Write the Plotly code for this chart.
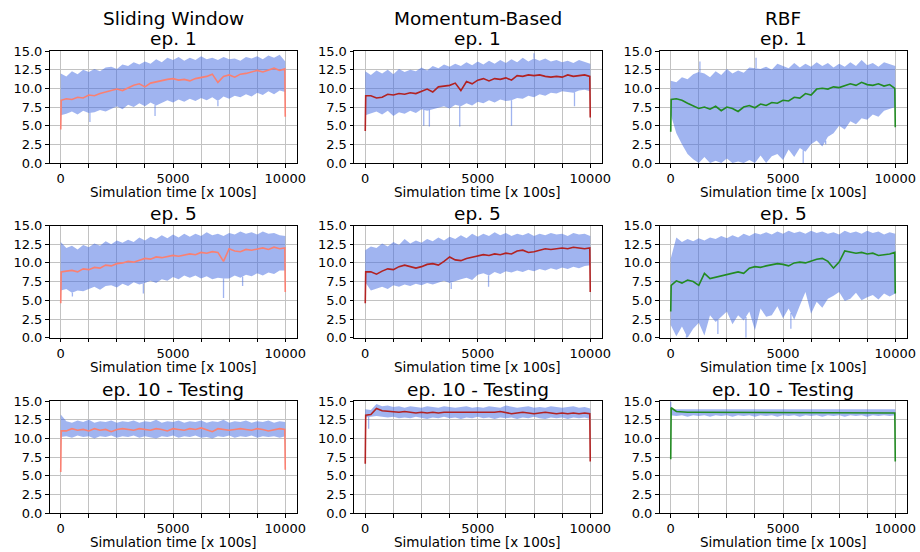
import numpy as np
import plotly.graph_objects as go

# ---------------- data ----------------
COL_TITLES = ["Sliding Window", "Momentum-Based", "RBF"]
ROW_TITLES = ["ep. 1", "ep. 5", "ep. 10 - Testing"]
X_LABEL = "Simulation time [x 100s]"
MEAN_COLORS = ["#fa8072", "#b22222", "#228b22"]
BAND_COLOR = "rgba(65,105,225,0.5)"

# time stamps of the sampled envelope / mean values
T_ENV = list(range(0, 10001, 250))                                   # 41 samples
T_MEAN = [0, 20] + list(range(250, 9751, 250)) + [9980, 10000]       # 43 samples

X_TICKS = [0, 1250, 2500, 3750, 5000, 6250, 7500, 8750, 10000]
X_TICK_TEXT = ["0", "", "", "", "5000", "", "", "", "10000"]
Y_TICKS = [0, 2.5, 5, 7.5, 10, 12.5, 15]

# ---- Sliding Window ----
sw_ep1_mean = [4.5, 8.4,
               8.6, 8.5, 8.8, 8.7, 9.1, 9.0, 9.3, 9.5, 9.8, 9.9,
               9.7, 10.1, 10.4, 10.6, 10.2, 10.7, 10.9, 11.1, 11.2, 11.3,
               11.1, 11.2, 11.0, 11.3, 11.4, 11.6, 11.9, 10.8, 11.6, 11.8,
               11.5, 11.9, 12.0, 12.2, 12.4, 12.2, 12.5, 12.7, 12.4,
               12.6, 6.2]
sw_ep1_upper = [12.0, 11.6, 12.3, 11.9, 12.5, 12.2, 12.6, 12.3, 12.8, 12.9,
                12.6, 13.2, 13.0, 13.5, 13.2, 13.6, 13.3, 13.9, 13.5, 14.1,
                13.8, 14.2, 13.7, 14.1, 13.8, 14.3, 13.9, 14.1, 13.8, 14.2,
                13.9, 14.0, 13.7, 14.2, 14.0, 14.3, 13.9, 14.4, 14.1, 14.5, 13.6]
sw_ep1_lower = [6.4, 6.6, 6.9, 6.5, 7.0, 6.7, 6.8, 7.1, 6.9, 7.3,
                7.6, 7.2, 7.8, 7.5, 8.0, 7.6, 8.1, 7.7, 8.0, 8.4,
                8.1, 8.5, 8.2, 8.6, 8.3, 8.7, 8.4, 8.8, 8.3, 8.9,
                8.6, 9.0, 8.8, 9.2, 8.9, 9.4, 9.1, 9.6, 9.2, 9.7, 9.5]
sw_ep1_spike_t = [1300, 4200, 7000]
sw_ep1_spike_v = [5.5, 6.3, 7.6]

sw_ep5_mean = [4.6, 8.8,
               8.9, 9.0, 8.8, 9.2, 9.1, 9.4, 9.3, 9.7, 9.6, 9.9,
               10.0, 10.2, 10.1, 10.3, 10.6, 10.5, 10.8, 10.7, 10.9, 11.0,
               10.9, 11.1, 11.2, 11.1, 11.4, 11.3, 11.5, 11.4, 10.2, 11.9,
               11.6, 11.5, 11.8, 11.7, 11.9, 12.0, 11.8, 12.1, 11.9,
               12.0, 6.1]
sw_ep5_upper = [12.8, 12.0, 12.3, 11.8, 12.4, 12.1, 12.6, 12.3, 12.9, 12.5,
                13.0, 12.7, 13.1, 12.8, 13.4, 13.0, 13.5, 13.2, 13.7, 13.3,
                13.8, 13.4, 13.9, 13.5, 13.9, 13.6, 14.1, 13.7, 13.9, 13.6,
                14.0, 13.8, 14.2, 13.9, 14.1, 13.8, 14.2, 13.9, 14.0, 13.7, 13.6]
sw_ep5_lower = [6.3, 6.5, 6.0, 6.3, 6.2, 6.5, 6.8, 6.4, 6.9, 7.0,
                6.7, 7.2, 6.9, 7.4, 7.1, 7.3, 7.6, 7.3, 7.8, 7.6,
                8.1, 7.8, 8.3, 8.0, 8.3, 7.9, 8.2, 7.8, 8.0, 7.9,
                7.9, 8.3, 8.0, 8.4, 8.2, 8.6, 8.3, 8.7, 8.5, 9.0, 9.0]
sw_ep5_spike_t = [520, 3680, 7250, 8100]
sw_ep5_spike_v = [5.5, 5.9, 5.3, 6.9]

sw_ep10_mean = [5.5, 11.0,
                11.0, 11.3, 11.1, 11.2, 11.0, 11.3, 11.1, 11.2, 10.9, 11.2,
                11.3, 11.2, 11.1, 11.3, 11.2, 11.1, 11.3, 11.2, 11.0, 11.3,
                11.2, 11.1, 11.3, 11.2, 11.4, 11.1, 10.9, 11.3, 11.2, 11.1,
                11.2, 11.3, 11.2, 11.1, 11.3, 11.2, 11.0, 11.2, 11.3,
                11.2, 5.8]
sw_ep10_upper = [13.2, 12.3, 12.1, 12.4, 12.2, 12.5, 12.1, 12.3, 12.2, 12.4,
                 12.1, 12.3, 12.2, 12.4, 12.1, 12.3, 12.2, 12.5, 12.1, 12.3,
                 12.2, 12.4, 12.1, 12.3, 12.2, 12.4, 12.1, 12.3, 12.2, 12.5,
                 12.1, 12.3, 12.2, 12.4, 12.1, 12.3, 12.2, 12.4, 12.1, 12.3, 12.2]
sw_ep10_lower = [10.2, 10.3, 10.1, 10.4, 10.2, 10.3, 10.0, 10.3, 10.2, 10.4,
                 10.1, 10.3, 10.2, 10.4, 10.1, 10.3, 10.2, 10.0, 10.3, 10.2,
                 10.4, 10.1, 10.3, 10.2, 10.4, 10.1, 10.2, 10.0, 10.3, 10.2,
                 10.4, 10.1, 10.3, 10.2, 10.4, 10.1, 10.3, 10.2, 10.3, 10.1, 10.3]
sw_ep10_spike_t = []
sw_ep10_spike_v = []

# ---- Momentum-Based ----
mb_ep1_mean = [4.3, 9.0,
               9.0, 8.7, 8.8, 9.2, 9.1, 9.3, 9.2, 9.4, 9.3, 9.6,
               9.9, 9.5, 10.2, 10.3, 10.4, 10.7, 9.7, 10.9, 10.6, 11.1,
               11.3, 11.0, 11.3, 11.2, 11.4, 11.1, 11.7, 11.6, 11.8, 11.7,
               11.8, 11.6, 11.5, 11.6, 11.5, 11.8, 11.6, 11.7, 11.8,
               11.6, 6.1]
mb_ep1_upper = [12.3, 11.8, 12.4, 12.0, 12.5, 11.9, 12.6, 12.2, 12.5, 12.3,
                12.8, 12.4, 13.0, 12.7, 13.2, 12.9, 13.3, 13.0, 13.5, 13.1,
                13.6, 13.2, 13.7, 13.3, 13.8, 13.4, 13.9, 13.5, 14.1, 13.6,
                14.0, 13.7, 14.0, 13.6, 13.8, 13.5, 13.7, 13.4, 13.8, 13.6, 13.3]
mb_ep1_lower = [6.4, 6.6, 6.9, 6.5, 7.0, 6.3, 6.8, 6.6, 7.0, 6.7,
                7.2, 7.0, 7.3, 7.4, 7.6, 7.3, 7.8, 7.6, 8.0, 7.7,
                8.2, 8.0, 8.4, 8.1, 8.5, 8.3, 8.4, 8.7, 8.6, 9.0,
                8.8, 9.2, 9.0, 9.4, 9.3, 9.6, 9.5, 9.4, 9.7, 9.8, 9.6]
mb_ep1_spike_t = [2600, 2850, 4200, 6500, 7500, 9300]
mb_ep1_spike_v = [5.0, 4.9, 4.9, 5.0, 14.7, 7.6]

mb_ep5_mean = [4.6, 8.8,
               8.8, 8.5, 8.9, 9.2, 9.1, 9.5, 9.7, 9.5, 9.3, 9.5,
               9.8, 9.9, 9.7, 10.2, 10.8, 10.4, 10.3, 10.6, 10.8, 11.0,
               11.1, 11.0, 11.2, 11.1, 11.3, 11.2, 11.6, 11.7, 11.4, 11.5,
               11.7, 11.9, 11.8, 11.9, 12.0, 11.9, 12.1, 12.0, 11.9,
               12.0, 6.1]
mb_ep5_upper = [11.7, 12.2, 12.0, 12.6, 12.2, 12.8, 12.4, 13.2, 12.6, 13.0,
                12.7, 13.2, 12.9, 13.4, 13.0, 13.5, 13.2, 13.7, 13.3, 13.9,
                13.5, 13.9, 13.6, 14.1, 13.7, 14.0, 13.6, 13.9, 13.7, 14.0,
                13.6, 13.9, 13.7, 14.0, 13.8, 13.9, 13.6, 14.0, 13.8, 13.9, 13.6]
mb_ep5_lower = [7.4, 6.3, 6.6, 6.8, 6.5, 7.0, 6.8, 7.1, 6.9, 7.2,
                7.0, 7.3, 7.1, 7.4, 7.6, 7.3, 7.5, 7.8, 8.0, 7.7,
                8.4, 8.6, 8.3, 8.8, 8.5, 8.9, 8.7, 9.0, 8.8, 9.1,
                8.9, 9.2, 9.0, 9.3, 9.1, 9.4, 9.2, 9.5, 9.3, 9.6, 9.7]
mb_ep5_spike_t = [3820, 5480]
mb_ep5_spike_v = [6.5, 6.8]

mb_ep10_mean = [6.6, 13.1,
                13.2, 14.0, 13.7, 13.6, 13.6, 13.5, 13.6, 13.5, 13.4, 13.5,
                13.4, 13.5, 13.4, 13.5, 13.5, 13.4, 13.5, 13.4, 13.5, 13.4,
                13.5, 13.4, 13.5, 13.6, 13.4, 13.3, 13.4, 13.5, 13.4, 13.3,
                13.4, 13.5, 13.4, 13.3, 13.4, 13.3, 13.4, 13.3, 13.4,
                13.3, 6.9]
mb_ep10_upper = [13.9, 13.8, 14.6, 14.3, 14.4, 14.2, 14.3, 14.1, 14.3, 14.2,
                 14.1, 14.3, 14.2, 14.1, 14.3, 14.2, 14.1, 14.2, 14.3, 14.1,
                 14.2, 14.1, 14.3, 14.2, 14.1, 14.4, 14.2, 14.1, 14.2, 14.3,
                 14.1, 14.2, 14.1, 14.3, 14.2, 14.1, 14.2, 14.3, 14.1, 14.2, 14.0]
mb_ep10_lower = [12.8, 12.9, 13.0, 12.9, 12.8, 12.9, 12.7, 12.8, 12.7, 12.9,
                 12.8, 12.6, 12.8, 12.7, 12.9, 12.7, 12.8, 12.6, 12.8, 12.7,
                 12.9, 12.7, 12.8, 12.6, 12.8, 12.7, 12.8, 12.6, 12.8, 12.7,
                 12.9, 12.7, 12.6, 12.8, 12.7, 12.8, 12.6, 12.8, 12.7, 12.8, 12.6]
mb_ep10_spike_t = [150]
mb_ep10_spike_v = [11.3]

# ---- RBF ----
rbf_ep1_mean = [4.2, 8.5,
                8.6, 8.4, 8.0, 7.6, 7.3, 7.5, 7.2, 7.6, 7.0, 7.5,
                7.3, 6.9, 7.5, 7.7, 7.4, 7.9, 7.7, 8.1, 8.0, 8.4,
                8.3, 8.8, 8.7, 9.3, 9.1, 9.9, 10.0, 9.9, 10.2, 10.1,
                10.4, 10.6, 10.4, 10.8, 10.5, 10.4, 10.6, 10.3, 10.5,
                10.0, 4.8]
rbf_ep1_upper = [11.0, 10.8, 11.5, 11.2, 11.9, 12.2, 12.0, 11.5, 12.3, 11.8,
                 12.6, 12.0, 12.4, 12.1, 12.8, 12.7, 12.6, 12.9, 12.5, 13.3,
                 13.0, 12.7, 13.4, 12.8, 13.3, 12.9, 13.5, 13.0, 13.4, 12.8,
                 13.3, 12.9, 13.5, 13.0, 13.8, 13.1, 13.4, 12.9, 13.5, 13.2, 13.0]
rbf_ep1_lower = [6.5, 4.0, 2.5, 1.2, 0.5, 0.0, 0.8, 0.0, 0.3, 0.0,
                 0.6, 0.0, 0.2, 0.0, 0.4, 0.0, 1.0, 0.0, 0.9, 1.2,
                 0.4, 1.8, 0.8, 2.0, 1.5, 2.5, 3.0, 2.2, 3.5, 4.0,
                 5.0, 4.5, 5.6, 5.2, 6.0, 5.8, 6.5, 6.2, 7.0, 7.3, 7.5]
rbf_ep1_spike_t = [1300, 3800, 5900, 6900]
rbf_ep1_spike_v = [13.6, 14.1, 0.0, 2.5]

rbf_ep5_mean = [3.5, 7.0,
                7.6, 7.3, 7.7, 7.5, 7.0, 8.6, 7.9, 8.1, 8.3, 8.4,
                8.7, 8.8, 8.6, 9.3, 9.5, 9.4, 9.6, 9.7, 9.9, 9.8,
                9.6, 10.0, 10.1, 10.0, 10.3, 10.5, 10.6, 10.2, 9.3, 10.1,
                11.6, 11.5, 11.3, 11.4, 11.2, 11.3, 11.0, 11.1, 11.2,
                11.4, 5.9]
rbf_ep5_upper = [10.6, 13.4, 12.8, 13.2, 12.9, 13.3, 13.0, 13.4, 13.2, 13.6,
                 13.3, 13.7, 13.4, 13.9, 13.6, 14.0, 13.8, 14.1, 13.8, 14.2,
                 13.9, 14.3, 14.0, 14.2, 13.9, 14.3, 14.0, 14.2, 13.9, 14.1,
                 13.8, 14.3, 14.0, 14.2, 13.9, 14.3, 14.0, 14.2, 13.8, 14.1, 13.9]
rbf_ep5_lower = [1.7, 0.2, 1.5, 0.0, 1.2, 2.0, 0.3, 3.0, 2.1, 2.8,
                 3.5, 1.8, 3.0, 2.3, 3.5, 1.0, 3.9, 2.8, 3.0, 4.2,
                 2.6, 3.9, 2.4, 4.3, 6.1, 3.2, 4.8, 4.0, 5.2, 5.6,
                 6.1, 4.9, 5.2, 6.0, 5.0, 5.4, 5.7, 5.1, 5.9, 5.5, 5.9]
rbf_ep5_spike_t = [700, 2100, 3350, 5350]
rbf_ep5_spike_v = [0.0, 0.5, 0.0, 1.2]

rbf_ep10_mean = [7.2, 14.1,
                 13.6, 13.5, 13.5, 13.5, 13.5, 13.5, 13.5, 13.5, 13.5, 13.5,
                 13.5, 13.5, 13.5, 13.5, 13.5, 13.5, 13.5, 13.5, 13.5, 13.5,
                 13.5, 13.5, 13.5, 13.5, 13.5, 13.5, 13.5, 13.5, 13.5, 13.5,
                 13.5, 13.5, 13.5, 13.5, 13.5, 13.5, 13.5, 13.4, 13.4,
                 13.4, 6.9]
rbf_ep10_upper = [13.9, 13.9, 13.9, 14.0, 13.9, 13.9, 14.0, 13.9, 13.9, 14.0,
                  13.9, 13.9, 14.0, 13.9, 13.9, 14.0, 13.9, 13.9, 14.0, 13.9,
                  13.9, 14.0, 13.9, 13.9, 14.0, 13.9, 13.9, 14.0, 13.9, 13.9,
                  14.0, 13.9, 13.9, 14.0, 13.9, 13.9, 14.0, 13.9, 13.9, 14.0, 13.9]
rbf_ep10_lower = [13.1, 13.0, 13.1, 12.9, 13.1, 13.0, 13.1, 12.9, 13.1, 13.0,
                  13.1, 12.9, 13.1, 13.0, 13.1, 12.9, 13.1, 13.0, 13.1, 12.9,
                  13.1, 13.0, 13.1, 12.9, 13.1, 13.0, 13.1, 12.9, 13.1, 13.0,
                  13.1, 12.9, 13.1, 13.0, 13.1, 12.9, 13.1, 13.0, 13.1, 13.0, 13.1]
rbf_ep10_spike_t = [0]
rbf_ep10_spike_v = [14.9]

PANELS = [  # rows: episodes, cols: methods
    [(sw_ep1_mean, sw_ep1_upper, sw_ep1_lower, sw_ep1_spike_t, sw_ep1_spike_v),
     (mb_ep1_mean, mb_ep1_upper, mb_ep1_lower, mb_ep1_spike_t, mb_ep1_spike_v),
     (rbf_ep1_mean, rbf_ep1_upper, rbf_ep1_lower, rbf_ep1_spike_t, rbf_ep1_spike_v)],
    [(sw_ep5_mean, sw_ep5_upper, sw_ep5_lower, sw_ep5_spike_t, sw_ep5_spike_v),
     (mb_ep5_mean, mb_ep5_upper, mb_ep5_lower, mb_ep5_spike_t, mb_ep5_spike_v),
     (rbf_ep5_mean, rbf_ep5_upper, rbf_ep5_lower, rbf_ep5_spike_t, rbf_ep5_spike_v)],
    [(sw_ep10_mean, sw_ep10_upper, sw_ep10_lower, sw_ep10_spike_t, sw_ep10_spike_v),
     (mb_ep10_mean, mb_ep10_upper, mb_ep10_lower, mb_ep10_spike_t, mb_ep10_spike_v),
     (rbf_ep10_mean, rbf_ep10_upper, rbf_ep10_lower, rbf_ep10_spike_t, rbf_ep10_spike_v)],
]

# ---------------- layout geometry (pixels) ----------------
W, H = 920, 552
COL_PX = [(49.5, 296.5), (354.0, 601.5), (659.5, 906.5)]
ROW_PX = [(51.0, 163.0), (225.5, 337.7), (401.0, 513.2)]
FONT = "DejaVu Sans"

fig = go.Figure()
layout = dict(
    width=W, height=H, margin=dict(l=0, r=0, t=0, b=0, autoexpand=False),
    paper_bgcolor="white", plot_bgcolor="white", showlegend=False,
    font=dict(family=FONT, color="black", size=12),
)
annotations = []

for r in range(3):
    for c in range(3):
        n = r * 3 + c + 1
        xa = "x" if n == 1 else f"x{n}"
        ya = "y" if n == 1 else f"y{n}"
        mean, upper, lower, sp_t, sp_v = PANELS[r][c]
        assert len(mean) == len(T_MEAN), (r, c, len(mean))
        assert len(upper) == len(T_ENV) and len(lower) == len(T_ENV), (r, c)
        fig.add_trace(go.Scatter(
            x=T_ENV + T_ENV[::-1], y=upper + lower[::-1],
            fill="toself", fillcolor=BAND_COLOR, mode="lines",
            line=dict(width=0, color=BAND_COLOR), xaxis=xa, yaxis=ya,
            hoverinfo="skip"))
        # isolated outlier excursions of the noisy signal
        if sp_t:
            sx, sy = [], []
            for t, v in zip(sp_t, sp_v):
                lo = float(np.interp(t, T_ENV, lower))
                hi = float(np.interp(t, T_ENV, upper))
                edge = lo if v < lo else hi
                sx += [t, t, None]
                sy += [v, edge, None]
            fig.add_trace(go.Scatter(x=sx, y=sy, mode="lines",
                                     line=dict(width=1.3, color=BAND_COLOR),
                                     xaxis=xa, yaxis=ya, hoverinfo="skip"))
        fig.add_trace(go.Scatter(
            x=T_MEAN, y=mean, mode="lines",
            line=dict(width=1.6, color=MEAN_COLORS[c]), xaxis=xa, yaxis=ya))

        x0, x1 = COL_PX[c]
        y0, y1 = ROW_PX[r]
        ax_common = dict(showline=True, linecolor="black", linewidth=1,
                         mirror=True, ticks="outside", ticklen=3.5,
                         tickwidth=1, tickcolor="black", automargin=False,
                         showgrid=True, gridcolor="#c2c2c2", gridwidth=1,
                         zeroline=False, tickfont=dict(size=13, family=FONT))
        xkey = "xaxis" if n == 1 else f"xaxis{n}"
        ykey = "yaxis" if n == 1 else f"yaxis{n}"
        layout[xkey] = dict(ax_common, domain=[x0 / W, x1 / W],
                            anchor=ya, range=[-500, 10500],
                            tickmode="array", tickvals=X_TICKS,
                            ticktext=X_TICK_TEXT)
        layout[ykey] = dict(ax_common, domain=[1 - y1 / H, 1 - y0 / H],
                            anchor=xa, range=[0, 15],
                            tickmode="array", tickvals=Y_TICKS,
                            tickformat=".1f")
        cx = (x0 + x1) / 2 / W
        annotations.append(dict(text=ROW_TITLES[r], x=cx, y=1 - (y0 - 12) / H,
                                xref="paper", yref="paper", showarrow=False,
                                xanchor="center", yanchor="middle",
                                font=dict(size=18.5, family=FONT)))
        if r == 0:
            annotations.append(dict(text=COL_TITLES[c], x=cx, y=1 - 18 / H,
                                    xref="paper", yref="paper", showarrow=False,
                                    xanchor="center", yanchor="middle",
                                    font=dict(size=18.5, family=FONT)))
        annotations.append(dict(text=X_LABEL, x=cx, y=1 - (y1 + 29) / H,
                                xref="paper", yref="paper", showarrow=False,
                                xanchor="center", yanchor="middle",
                                font=dict(size=13.5, family=FONT)))

layout["annotations"] = annotations
fig.update_layout(**layout)
fig.write_html("out.html",
               config={"displayModeBar": False},
               post_script="document.body.style.margin='0';"
                           "document.body.style.padding='0';")
